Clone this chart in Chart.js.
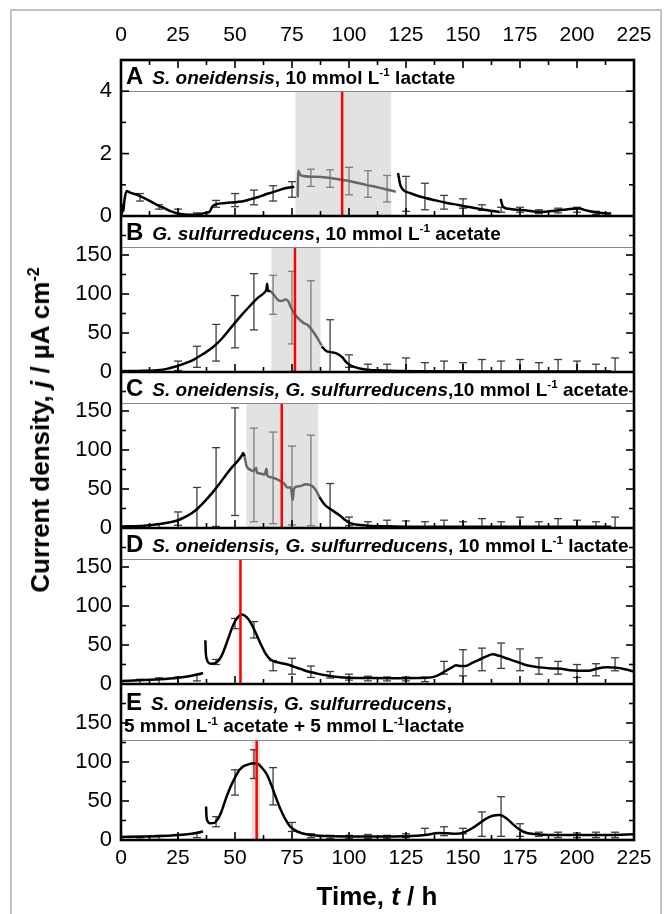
<!DOCTYPE html>
<html>
<head>
<meta charset="utf-8">
<title>Current density vs time, panels A-E</title>
<script src="https://cdn.jsdelivr.net/npm/chart.js"></script>
<style>
  html, body { margin: 0; padding: 0; background: #fff; }
  body { font-family: Arial, "Liberation Sans", sans-serif; color: #000; }
  #wrap { position: relative; width: 665px; height: 914px; overflow: hidden; }
  #frame { position: absolute; left: 10px; top: 9px; width: 648px; height: 940px; border: 2px solid #c4c4c4; }
  #chart { position: absolute; left: 0; top: 0; }
  .hdr { position: absolute; left: 126px; font-weight: bold; font-size: 19px; white-space: nowrap; line-height: 1; transform: translateY(-50%); }
  .hdr .tag { font-size: 24px; margin-right: 9px; }
  sup { font-size: 0.62em; vertical-align: 0; position: relative; top: -0.6em; }
  .ttl { position: absolute; font-weight: bold; font-size: 26px; white-space: nowrap; line-height: 1; }
</style>
</head>
<body>
<div id="wrap">
  <div id="frame"></div>
  <canvas id="chart" width="665" height="914"></canvas>
  <div class="ttl" id="ytitle" style="left:40px;top:430px;transform:translate(-50%,-50%) rotate(-90deg);">Current density, <i>j</i> / µA cm<sup>-2</sup></div>
  <div class="ttl" id="xtitle" style="left:377px;top:896px;transform:translate(-50%,-50%);">Time, <i>t</i> / h</div>
</div>
<script>
// ---- data (time in h, current density; A in arbitrary small units, B-E in µA cm-2) ----
const hourTicks = [0, 25, 50, 75, 100, 125, 150, 175, 200, 225];
const ticksA = [0, 2, 4];
const ticksCurrent = [0, 50, 100, 150];

// A: S. oneidensis, lactate
const aBlack = [[0.3,0.05],[0.6,0.35],[1,0.15],[1.5,0.5],[2.5,0.8],[4,0.75],[7,0.68],[10,0.58],[13,0.47],[16,0.35],[19,0.25],[22,0.15],[25,0.08],[28,0.05],[31,0.04],[34,0.05],[37,0.1],[39,0.15],[40,0.3],[42,0.38],[45,0.41],[48,0.43],[51,0.45],[54,0.48],[57,0.54],[60,0.6],[63,0.68],[66,0.75],[69,0.82],[72,0.89],[76,0.94],[76.5,null],
  [121.5,1.38],[122.5,1.0],[124,0.82],[127,0.73],[130,0.65],[134,0.57],[138,0.5],[142,0.43],[146,0.38],[150,0.32],[154,0.27],[158,0.22],[162,0.17],[166,0.13],[166.3,null],
  [166.5,0.55],[167.5,0.3],[170,0.23],[174,0.2],[178,0.18],[182,0.14],[186,0.14],[190,0.17],[194,0.2],[198,0.23],[201,0.24],[204,0.18],[208,0.12],[212,0.09],[215,0.08]];
const aGray = [[77.5,0.6],[77.7,1.45],[78.5,1.33],[80,1.28],[84,1.26],[88,1.25],[92,1.22],[96,1.17],[100,1.12],[104,1.06],[108,0.99],[112,0.93],[116,0.86],[120.5,0.78]];
const aErr = [[8.3,0.48,0.72],[16.7,0.22,0.36],[25,0.02,0.22],[33.3,0,0.1],[41.7,0.28,0.5],[50,0.3,0.72],[58.3,0.36,0.83],[66.7,0.48,0.97],[75,0.6,1.1],[83.3,0.95,1.5],[91.7,0.92,1.48],[100,0.68,1.56],[108.3,0.6,1.45],[116.7,0.45,1.3],[125,0.15,1.27],[133.3,0.2,1.05],[141.7,0.22,0.66],[150,0.25,0.55],[158.3,0.18,0.36],[166.7,0.12,0.28],[175,0.12,0.28],[183.3,0.08,0.2],[191.7,0.1,0.25],[200,0.12,0.28],[208.3,0.05,0.15]];
const aBand = [76.5, 118.5];
const aMark = 97;

// B: G. sulfurreducens, acetate
const bBlack = [[0,1],[10,1.5],[17,2.5],[20,4],[24,7],[28,11],[32,16],[36,23],[40,31],[44,42],[48,56],[52,70],[56,83],[60,95],[63.5,104],[63.8,106],[64.1,113],[64.4,104],[65.5,104],[66,null],
  [88,33],[90,27],[92,25.5],[94.5,24],[97,19],[99,12],[101,8],[104,5],[108,3],[115,2],[130,1],[160,0.5],[215,0.5]];
const bGray = [[65.5,104],[67,99],[69,92],[70.5,91],[72,93],[73.3,91],[74.5,83],[76,75],[78,68],[80,63],[82,60],[84,53],[86,44],[88,34]];
const bErr = [[8.3,0,1.5],[16.7,0,3],[25,2,14],[33.3,6,33],[41.7,14,61],[50,31,98],[58.3,54,126],[66.7,74,124],[75,36,129],[83.3,0,117],[91.7,0,67],[100,6,22],[108.3,0,10],[116.7,0,10],[125,0,18],[133.3,0,12],[141.7,0,14],[150,0,12],[158.3,0,16],[166.7,0,14],[175,0,16],[183.3,0,12],[191.7,0,16],[200,0,14],[208.3,0,10],[216.7,0,18]];
const bBand = [66, 87.5];
const bMark = 76.3;

// C: co-culture, acetate
const cBlack = [[0,2],[10,3],[17,5],[21,7],[25,10],[28,14],[31,19],[34,26],[37,35],[40,45],[43,56],[46,68],[49,79],[51.5,87],[53,93],[53.6,96],[54.2,92],[54.5,null],
  [87,40],[88.5,33],[90,28],[92,24],[94,20],[96,16],[98,11],[100,7],[103,4.5],[108,3],[120,2],[150,1.5],[215,1.5]];
const cGray = [[54.2,92],[55,80],[56.5,75],[58,73],[59.3,77],[59.6,71],[61,70],[63,68.5],[63.8,76],[64.2,67],[66,65],[68,63],[70,60],[71.5,57],[73,52],[74.5,52],[75.3,36],[75.8,50],[77,53],[79,54],[81,56],[83,55],[84.5,52],[86,46],[87,40]];
const cErr = [[8.3,0,2],[16.7,0,5],[25,3.5,20.6],[33.3,0,52],[41.7,2,103],[50,16,154],[58.3,8,128],[66.7,5.5,123],[75,4,105],[83.3,3,119],[91.7,0,57],[100,3,14],[108.3,0,8],[116.7,0,10],[125,0,9],[133.3,0,8],[141.7,0,10],[150,0,8],[158.3,0,12],[166.7,0,8],[175,0,14],[183.3,0,8],[191.7,0,12],[200,0,10],[208.3,0,8],[216.7,0,14]];
const cBand = [55, 86.5];
const cMark = 70.5;

// D: co-culture, lactate
const dBlack = [[0,4],[10,5],[17,6],[25,8],[31,10.5],[36,14],[36.5,null],
  [37,56],[37.2,40],[37.6,32],[38.5,27],[40,26],[42,28],[43.5,33],[45,42],[47,58],[49,74],[51,85],[53,89],[55,86],[57,78],[59,66],[61,53],[63,41],[65,33],[67,29],[70,27],[73,25],[76,22],[79,19],[82,16],[85,14],[88,12],[91,10.5],[95,9],[100,8],[110,7.6],[120,7.4],[130,7.6],[136,8.5],[139,11],[142,16],[145,21],[147,24],[149,23],[151,23],[154,27],[157,31],[160,35],[163,38],[166,36],[169,33],[172,30],[175,27],[178,24],[181,22.5],[185,21],[189,20],[193,19.5],[197,17.5],[201,17],[205,17],[209,20],[213,21.5],[217,21],[221,19],[225,16]];
const dErr = [[8.3,0,6],[16.7,0,8],[25,0,9],[33.3,4,12],[41.7,25,31.5],[50,71,84],[58.3,59,80],[66.7,17,30],[75,12.6,33],[83.3,8.4,23],[91.7,7.6,16],[100,5,12.6],[108.3,4,10],[116.7,4,9],[125,4,9],[133.3,3,9],[141.7,12.6,29],[150,10.5,44],[158.3,17,46],[166.7,20,52.5],[175,17,45],[183.3,12.6,33.6],[191.7,12.6,29],[200,8.4,25],[208.3,10.5,26],[216.7,17,33.6]];
const dBand = [51.6, 52.4];
const dMark = 52.4;

// E: co-culture, acetate + lactate
const eBlack = [[0,4],[10,4.5],[20,5.5],[25,6.5],[31,8],[36,11],[36.5,null],
  [37.3,43],[37.5,30],[38,24],[39,21.5],[41,22],[42.5,27],[44,36],[46,53],[48,68],[50,80],[52,90],[54,95],[56,97],[58,98.5],[60,97.5],[62,92],[64,84],[66,70],[68,54],[70,39],[72,27],[74,18],[76,13],[79,9],[83,6.5],[90,5],[100,4.5],[115,4.5],[130,5.5],[135,7],[139,9],[143,8.5],[147,8],[151,10.5],[154,15],[157,21],[160,27],[163,31],[166,32],[169,28],[172,20],[175,13],[178,9],[182,7.5],[188,6.5],[200,6.5],[215,6.5],[225,7.5]];
const eErr = [[8.3,0,3],[16.7,0,6],[25,0,7],[33.3,3,9],[41.7,17,30],[50,57.6,90],[58.3,78.8,115.7],[66.7,45,92.8],[75,11,22.5],[83.3,3,8],[91.7,2,6],[100,2,6],[108.3,2,7],[116.7,2,6],[125,3,8],[133.3,6.8,15],[141.7,5.5,17],[150,8,15],[158.3,4.7,36],[166.7,4.7,55.5],[175,4.7,20.8],[183.3,4.7,10],[191.7,3,10],[200,3,9],[208.3,3,10],[216.7,3,10]];
const eBand = [57.2, 61];
const eMark = 59.5;

// ---- panel setup ----
const panels = [
  { id: 'yA', max: 5, major: 2, minor: 1, header: 4, labels: ticksA, black: aBlack, gray: aGray, err: aErr, band: aBand, mark: aMark,
    html: '<span class="tag">A</span><i>S. oneidensis</i>, 10 mmol L<sup>-1</sup> lactate' },
  { id: 'yB', max: 200, major: 50, minor: 25, header: 160, labels: ticksCurrent, black: bBlack, gray: bGray, err: bErr, band: bBand, mark: bMark,
    html: '<span class="tag">B</span><i>G. sulfurreducens</i>, 10 mmol L<sup>-1</sup> acetate' },
  { id: 'yC', max: 200, major: 50, minor: 25, header: 160, labels: ticksCurrent, black: cBlack, gray: cGray, err: cErr, band: cBand, mark: cMark,
    html: '<span class="tag">C</span><i>S. oneidensis, G. sulfurreducens</i>,10 mmol L<sup>-1</sup> acetate' },
  { id: 'yD', max: 200, major: 50, minor: 25, header: 160, labels: ticksCurrent, black: dBlack, gray: null, err: dErr, band: dBand, mark: dMark,
    html: '<span class="tag">D</span><i>S. oneidensis, G. sulfurreducens</i>, 10 mmol L<sup>-1</sup> lactate' },
  { id: 'yE', max: 200, major: 50, minor: 25, header: 128, labels: ticksCurrent, black: eBlack, gray: null, err: eErr, band: eBand, mark: eMark,
    html: '<span class="tag">E</span><i>S. oneidensis, G. sulfurreducens</i>,',
    html2: '5 mmol L<sup>-1</sup> acetate + 5 mmol L<sup>-1</sup>lactate' },
];

const toPts = arr => arr.map(([x, y]) => ({ x, y }));
const lineSet = (data, yAxisID, color) => ({
  data: toPts(data), yAxisID, xAxisID: 'x', borderColor: color, borderWidth: 2.5,
  pointRadius: 0, fill: false, cubicInterpolationMode: 'monotone', spanGaps: false
});

const datasets = [];
panels.forEach(p => {
  datasets.push(lineSet(p.black, p.id, '#000'));
  if (p.gray) datasets.push(lineSet(p.gray, p.id, '#676767'));
});

const fam = 'Arial, "Liberation Sans", sans-serif';
const xFont = { family: fam, size: 21 };
const yFont = { family: fam, size: 22 };

const scales = {
  x: { type: 'linear', position: 'bottom', min: 0, max: 225,
       grid: { display: false, drawTicks: false }, border: { display: false },
       ticks: { stepSize: 25, autoSkip: false, maxRotation: 0, padding: 6, color: '#000', font: xFont,
                callback: v => hourTicks.includes(v) ? String(v) : '' },
       afterFit: s => { s.height = 74; } },
  x2: { type: 'linear', position: 'top', min: 0, max: 225,
       grid: { display: false, drawTicks: false }, border: { display: false },
       ticks: { stepSize: 25, autoSkip: false, maxRotation: 0, padding: 12, color: '#000', font: xFont,
                callback: v => hourTicks.includes(v) ? String(v) : '' },
       afterFit: s => { s.height = 60; } },
};
panels.forEach((p, i) => {
  scales[p.id] = {
    type: 'linear', position: 'left', stack: 'panels', stackWeight: 1, weight: 5 - i,
    min: 0, max: p.max,
    grid: { display: false, drawTicks: false }, border: { display: false },
    ticks: { stepSize: p.major, autoSkip: false, padding: 9, color: '#000', font: yFont,
             callback: v => p.labels.includes(v) ? String(v) : '' },
    afterFit: s => { s.width = 121; }
  };
});

function seg(ctx, x0, y0, x1, y1) { ctx.beginPath(); ctx.moveTo(x0, y0); ctx.lineTo(x1, y1); ctx.stroke(); }

const decor = {
  id: 'decor',
  beforeDatasetsDraw(chart) {
    const { ctx, chartArea: ca } = chart;
    const xs = chart.scales.x;
    panels.forEach(p => {
      const ys = chart.scales[p.id];
      const top = ys.getPixelForValue(p.header);
      ctx.save();
      ctx.beginPath();
      ctx.rect(ca.left, ys.top, ca.right - ca.left, ys.bottom - ys.top);
      ctx.clip();
      const bx0 = xs.getPixelForValue(p.band[0]), bx1 = xs.getPixelForValue(p.band[1]);
      ctx.fillStyle = '#e2e2e2';
      ctx.fillRect(bx0, top, bx1 - bx0, ys.bottom - top);
      ctx.lineWidth = 1.3;
      p.err.forEach(([h, lo, hi]) => {
        const x = xs.getPixelForValue(h);
        const inBand = h >= p.band[0] && h <= p.band[1] && p.gray;
        ctx.strokeStyle = inBand ? '#7d7d7d' : '#3c3c3c';
        const yl = ys.getPixelForValue(lo), yh = ys.getPixelForValue(hi);
        seg(ctx, x, yl, x, yh);
        seg(ctx, x - 4, yh, x + 4, yh);
        seg(ctx, x - 4, yl, x + 4, yl);
      });
      ctx.restore();
    });
  },
  afterDatasetsDraw(chart) {
    const { ctx } = chart;
    const xs = chart.scales.x;
    ctx.save();
    ctx.strokeStyle = '#ff0000';
    ctx.lineWidth = 2.5;
    panels.forEach(p => {
      const ys = chart.scales[p.id];
      const x = xs.getPixelForValue(p.mark);
      seg(ctx, x, ys.getPixelForValue(p.header), x, ys.bottom);
    });
    ctx.restore();
  },
  afterDraw(chart) {
    const { ctx, chartArea: ca } = chart;
    const xs = chart.scales.x;
    ctx.save();
    panels.forEach((p, i) => {
      const ys = chart.scales[p.id];
      ctx.strokeStyle = '#8a8a8a';
      ctx.lineWidth = 1;
      const hy = Math.round(ys.getPixelForValue(p.header)) + 0.5;
      seg(ctx, ca.left, hy, ca.right, hy);
      ctx.strokeStyle = '#000';
      ctx.lineWidth = 1.6;
      for (let v = p.minor; v < p.max; v += p.minor) {
        const len = v % p.major === 0 ? 8 : 5;
        const y = ys.getPixelForValue(v);
        seg(ctx, ca.left, y, ca.left + len, y);
        seg(ctx, ca.right - len, y, ca.right, y);
      }
      for (let h = 12.5; h < 225; h += 12.5) {
        const len = h % 25 === 0 ? 8 : 5;
        const x = xs.getPixelForValue(h);
        seg(ctx, x, ys.bottom, x, ys.bottom - len);
        if (i === 0) seg(ctx, x, ys.top, x, ys.top + len);
      }
      ctx.lineWidth = 2.6;
      if (i < panels.length - 1) seg(ctx, ca.left, ys.bottom, ca.right, ys.bottom);
    });
    ctx.lineWidth = 2.6;
    ctx.strokeRect(ca.left, ca.top, ca.right - ca.left, ca.bottom - ca.top);
    ctx.restore();
  }
};

const chart = new Chart(document.getElementById('chart'), {
  type: 'line',
  data: { datasets },
  options: {
    responsive: false,
    animation: false,
    layout: { padding: { left: 0, top: 0, right: 31, bottom: 0 } },
    plugins: { legend: { display: false }, tooltip: { enabled: false } },
    scales
  },
  plugins: [decor]
});

// panel headers placed from the panel scales
const wrap = document.getElementById('wrap');
panels.forEach(p => {
  const ys = chart.scales[p.id];
  const d = document.createElement('div');
  d.className = 'hdr';
  d.innerHTML = p.html;
  d.style.top = (ys.top + (p.html2 ? 18 : 15.5)) + 'px';
  wrap.appendChild(d);
  if (p.html2) {
    const d2 = document.createElement('div');
    d2.className = 'hdr';
    d2.style.left = '124px';
    d2.innerHTML = p.html2;
    d2.style.top = (ys.top + 41) + 'px';
    wrap.appendChild(d2);
  }
});
</script>
</body>
</html>
